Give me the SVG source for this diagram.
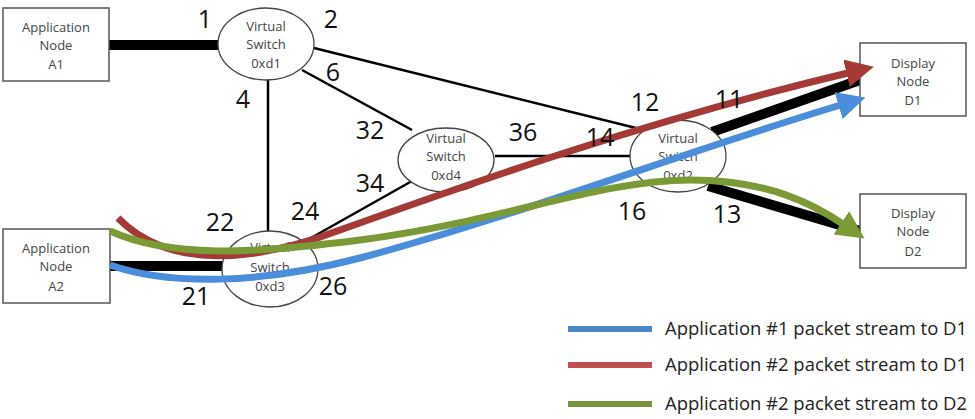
<svg xmlns="http://www.w3.org/2000/svg" width="975" height="419" viewBox="0 0 975 419">
<defs>
<style>
.box{fill:#fff;stroke:#555;stroke-width:1.5}
.sw{fill:#fff;stroke:#444;stroke-width:1.3}
.nt{font-family:"Open Sans","Liberation Sans",sans-serif;font-size:13px;fill:#444;text-anchor:middle}
.pl{font-family:"Open Sans","Liberation Sans",sans-serif;font-size:25px;fill:#111;text-anchor:middle}
.thin{stroke:#000;stroke-width:2.5;fill:none}
.thick{stroke:#000;stroke-width:10;fill:none}
.lg{font-family:"Open Sans","Liberation Sans",sans-serif;font-size:18px;fill:#222}
.st{fill:none;stroke-width:7;stroke-linecap:butt}
</style>
<marker id="ar" viewBox="0 0 10 10" refX="2" refY="5" markerWidth="4" markerHeight="4" orient="auto"><path d="M0,0L10,5L0,10z" fill="#a33a36"/></marker>
<marker id="ab" viewBox="0 0 10 10" refX="2" refY="5" markerWidth="4" markerHeight="4" orient="auto"><path d="M0,0L10,5L0,10z" fill="#4a8edb"/></marker>
<marker id="ag" viewBox="0 0 10 10" refX="2" refY="5" markerWidth="4" markerHeight="4" orient="auto"><path d="M0,0L10,5L0,10z" fill="#7a9a35"/></marker>
</defs>
<rect width="975" height="419" fill="#fff"/>
<g id="connectors">
<line class="thick" x1="109" y1="45" x2="222" y2="45"/>
<line class="thin" x1="314" y1="48" x2="640" y2="129"/>
<line class="thin" x1="302" y1="70" x2="412" y2="130"/>
<line class="thin" x1="268" y1="80" x2="268" y2="231"/>
<line class="thin" x1="495" y1="156" x2="632" y2="156"/>
<line class="thin" x1="302" y1="243" x2="412" y2="181"/>
<line class="thick" x1="110" y1="266" x2="224" y2="266"/>
<line class="thick" x1="712" y1="132" x2="860" y2="80"/>
<line class="thick" x1="708" y1="186" x2="860" y2="231"/>
</g>
<g id="A1"><rect class="box" x="3" y="8" width="106" height="73"/><text class="nt" x="56" y="32">Application</text><text class="nt" x="56" y="50">Node</text><text class="nt" x="56" y="69">A1</text></g>
<g id="A2"><rect class="box" x="3" y="229" width="107" height="74"/><text class="nt" x="56" y="253">Application</text><text class="nt" x="56" y="271">Node</text><text class="nt" x="56" y="291">A2</text></g>
<g id="D1"><rect class="box" x="860" y="43" width="106" height="73"/><text class="nt" x="913" y="68">Display</text><text class="nt" x="913" y="86">Node</text><text class="nt" x="913" y="105">D1</text></g>
<g id="D2"><rect class="box" x="860" y="194" width="106" height="74"/><text class="nt" x="913" y="218">Display</text><text class="nt" x="913" y="236">Node</text><text class="nt" x="913" y="256">D2</text></g>
<g id="sw1"><ellipse class="sw" cx="266" cy="44" rx="48" ry="36"/><text class="nt" x="266" y="31">Virtual</text><text class="nt" x="266" y="49">Switch</text><text class="nt" x="266" y="68">0xd1</text></g>
<g id="sw4"><ellipse class="sw" cx="446" cy="160" rx="48" ry="32"/><text class="nt" x="446" y="143">Virtual</text><text class="nt" x="446" y="161">Switch</text><text class="nt" x="446" y="180">0xd4</text></g>
<g id="sw2"><ellipse class="sw" cx="678" cy="156" rx="48" ry="36"/><text class="nt" x="678" y="143">Virtual</text><text class="nt" x="678" y="161">Switch</text><text class="nt" x="678" y="180">0xd2</text></g>
<g id="sw3"><ellipse class="sw" cx="270" cy="269" rx="48" ry="38"/><text class="nt" x="270" y="252">Virtual</text><text class="nt" x="270" y="272">Switch</text><text class="nt" x="270" y="291">0xd3</text></g>
<g id="streams">
<path class="st" stroke="#a33a36" d="M118,218 C165,266 245,266 340,230 C480,180 650,120 852,72" marker-end="url(#ar)"/>
<path class="st" stroke="#4a8edb" d="M110,265 C170,286 260,284 360,258 C520,215 690,150 844,104" marker-end="url(#ab)"/>
<path class="st" stroke="#7a9a35" d="M110,231 C170,258 250,254 360,240 C500,222 600,180 690,180 C770,180 815,205 846,226" marker-end="url(#ag)"/>
</g>
<g id="port-labels">
<text class="pl" x="205" y="28">1</text>
<text class="pl" x="331" y="28">2</text>
<text class="pl" x="243" y="108">4</text>
<text class="pl" x="333" y="81">6</text>
<text class="pl" x="370" y="139">32</text>
<text class="pl" x="370" y="192">34</text>
<text class="pl" x="523" y="141">36</text>
<text class="pl" x="600" y="146">14</text>
<text class="pl" x="645" y="111">12</text>
<text class="pl" x="729" y="108">11</text>
<text class="pl" x="632" y="220">16</text>
<text class="pl" x="727" y="223">13</text>
<text class="pl" x="220" y="231">22</text>
<text class="pl" x="305" y="220">24</text>
<text class="pl" x="196" y="305">21</text>
<text class="pl" x="333" y="295">26</text>
</g>
<g id="legend">
<line x1="568" y1="329" x2="652" y2="329" stroke="#4a86c8" stroke-width="6"/>
<line x1="568" y1="365" x2="652" y2="365" stroke="#c0504d" stroke-width="6"/>
<line x1="568" y1="404" x2="652" y2="404" stroke="#77933c" stroke-width="6"/>
<text class="lg" x="665" y="335" textLength="302" lengthAdjust="spacingAndGlyphs">Application #1 packet stream to D1</text>
<text class="lg" x="665" y="371" textLength="302" lengthAdjust="spacingAndGlyphs">Application #2 packet stream to D1</text>
<text class="lg" x="665" y="410" textLength="302" lengthAdjust="spacingAndGlyphs">Application #2 packet stream to D2</text>
</g>
</svg>
